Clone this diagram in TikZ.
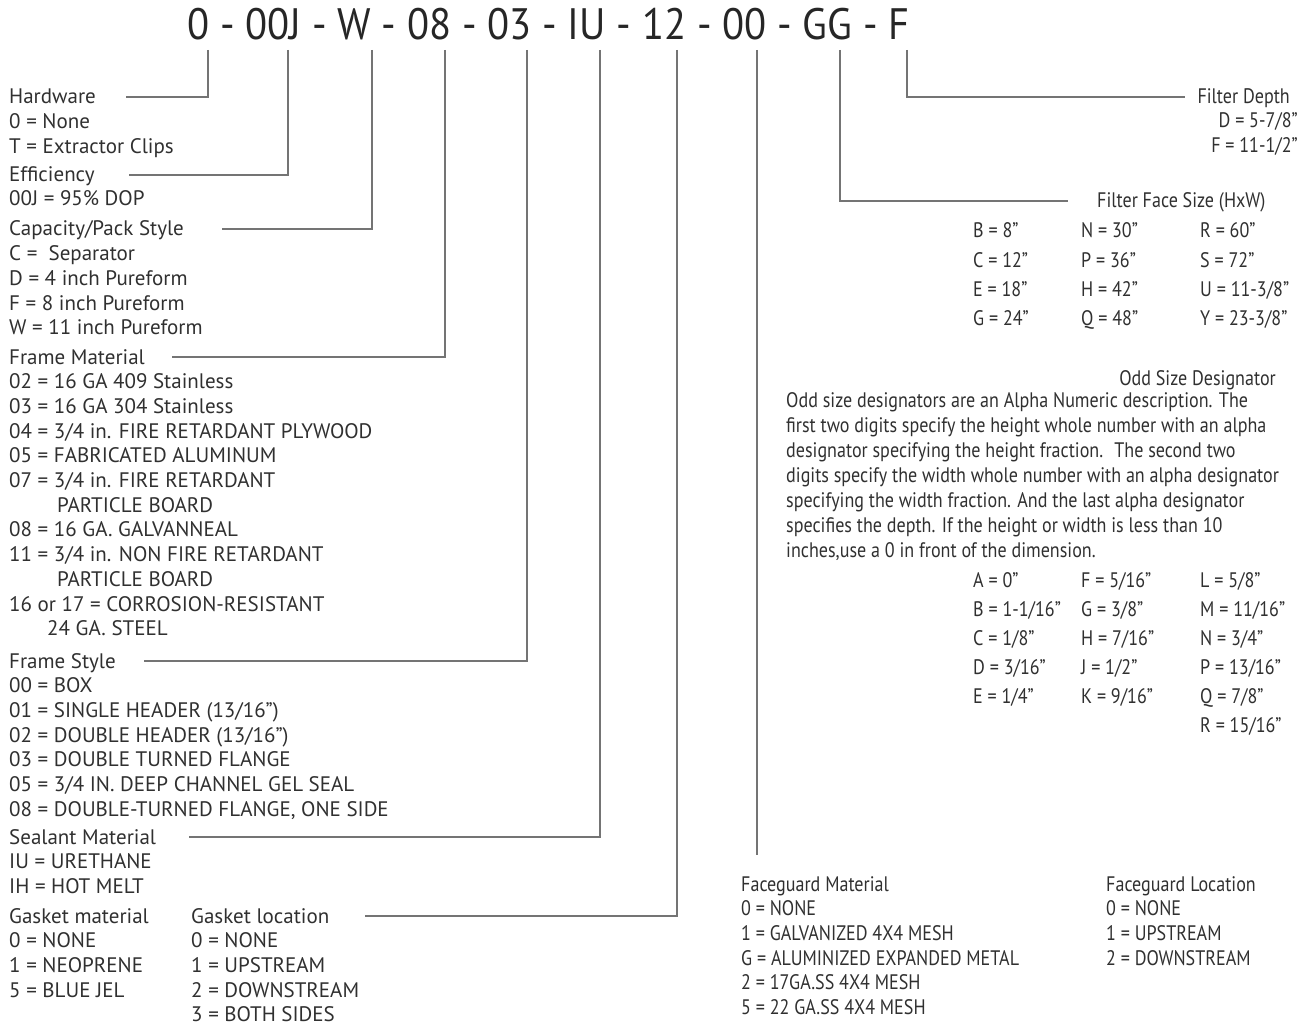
\documentclass[tikz,border=0pt]{standalone}
\usepackage{fontspec}
\setmainfont{PT Sans}
\newfontfamily\narrowfont[FakeStretch=0.86]{PT Sans}
\newfontfamily\codefont[FakeStretch=0.92]{PT Sans}
\usetikzlibrary{positioning}

\definecolor{inkgray}{HTML}{303030}
\definecolor{leadgray}{HTML}{747474}

\tikzset{
  lbl/.style={anchor=west, inner sep=0pt, text height=14pt, text depth=0pt,
    text=inkgray, font=\fontsize{21}{25}\selectfont},
  narrow/.style={lbl, font=\narrowfont\fontsize{21}{25}\selectfont},
  leader/.style={draw=leadgray, line width=1.8pt},
}

\begin{document}
\begin{tikzpicture}[x=1pt,y=-1pt]
  \useasboundingbox (0,0) rectangle (1307,1027);

  \def\rowstep{24.7}
  \def\gridstep{29.1}

  % part number
  \node[anchor=base west, inner sep=0pt, text=black!85,
        font=\codefont\fontsize{44}{50}\selectfont] (code) at (187,40)
        {0 - 00J - W - 08 - 03 - IU - 12 - 00 - GG - F};

  % tick tops under each field
  \foreach \n/\x in {hw/208, eff/288, cap/372, fmat/445, fsty/527,
                     seal/600, gask/677, fguard/757, fsize/840, fdepth/907}
    \coordinate (t-\n) at (\x,50);

  % Hardware
  \node[lbl] (hw) at (9,97) {Hardware};
  \foreach \t [count=\i] in {0 = None, T = Extractor Clips}
    \node[lbl] (hw\i) at (9,{97+\rowstep*\i}) {\t};

  % Efficiency
  \node[lbl] (eff) at (9,175) {Efficiency};
  \node[lbl] (eff1) at (9,199) {00J = 95\% DOP};

  % Capacity
  \node[lbl] (cap) at (9,229) {Capacity/Pack Style};
  \foreach \t [count=\i] in {C =~ Separator, D = 4 inch Pureform,
                             F = 8 inch Pureform, W = 11 inch Pureform}
    \node[lbl] (cap\i) at (9,{229+\rowstep*\i}) {\t};

  % Frame material
  \node[lbl] (fmat) at (9,357) {Frame Material};
  \foreach \t [count=\i] in {02 = 16 GA 409 Stainless, 03 = 16 GA 304 Stainless,
      04 = 3/4 in. FIRE RETARDANT PLYWOOD, 05 = FABRICATED ALUMINUM,
      07 = 3/4 in. FIRE RETARDANT, \hspace*{48pt}PARTICLE BOARD,
      08 = 16 GA. GALVANNEAL, 11 = 3/4 in. NON FIRE RETARDANT,
      \hspace*{48pt}PARTICLE BOARD, 16 or 17 = CORROSION-RESISTANT,
      \hspace*{38pt}24 GA. STEEL}
    \node[lbl] (fmat\i) at (9,{357+\rowstep*\i}) {\t};

  % Frame style
  \node[lbl] (fsty) at (9,661) {Frame Style};
  \foreach \t [count=\i] in {00 = BOX, 01 = SINGLE HEADER (13/16”),
      02 = DOUBLE HEADER (13/16”), 03 = DOUBLE TURNED FLANGE,
      05 = 3/4 IN. DEEP CHANNEL GEL SEAL, {08 = DOUBLE-TURNED FLANGE, ONE SIDE}}
    \node[lbl] (fsty\i) at (9,{661+\rowstep*\i}) {\t};

  % Sealant
  \node[lbl] (seal) at (9,837) {Sealant Material};
  \foreach \t [count=\i] in {IU = URETHANE, IH = HOT MELT}
    \node[lbl] (seal\i) at (9,{837+\rowstep*\i}) {\t};

  % Gasket
  \node[lbl] (gm) at (9,916) {Gasket material};
  \foreach \t [count=\i] in {0 = NONE, 1 = NEOPRENE, 5 = BLUE JEL}
    \node[lbl] (gm\i) at (9,{916+\rowstep*\i}) {\t};
  \node[lbl] (gl) at (191,916) {Gasket location};
  \foreach \t [count=\i] in {0 = NONE, 1 = UPSTREAM, 2 = DOWNSTREAM, 3 = BOTH SIDES}
    \node[lbl] (gl\i) at (191,{916+\rowstep*\i}) {\t};

  % Filter depth
  \node[narrow, anchor=east] (fd) at (1290,97) {Filter Depth};
  \node[narrow, anchor=east] (fd1) at (1298,121) {D = 5-7/8”};
  \node[narrow, anchor=east] (fd2) at (1298,146) {F = 11-1/2”};

  % Filter face size
  \node[narrow] (fs) at (1097,201) {Filter Face Size (HxW)};
  \foreach \t [count=\i] in {B = 8”, C = 12”, E = 18”, G = 24”}
    \node[narrow] (fsa\i) at (973,{231+\gridstep*(\i-1)}) {\t};
  \foreach \t [count=\i] in {N = 30”, P = 36”, H = 42”, Q = 48”}
    \node[narrow] (fsb\i) at (1081,{231+\gridstep*(\i-1)}) {\t};
  \foreach \t [count=\i] in {R = 60”, S = 72”, U = 11-3/8”, Y = 23-3/8”}
    \node[narrow] (fsc\i) at (1200,{231+\gridstep*(\i-1)}) {\t};

  % Odd size designator
  \node[narrow, anchor=east] (odd) at (1276,378) {Odd Size Designator};
  \foreach \t [count=\i] in {
      Odd size designators are an Alpha Numeric description. The,
      first two digits specify the height whole number with an alpha,
      designator specifying the height fraction.~ The second two,
      digits specify the width whole number with an alpha designator,
      specifying the width fraction. And the last alpha designator,
      specifies the depth. If the height or width is less than 10,
      {inches,use a 0 in front of the dimension.}}
    \node[narrow] (para\i) at (786,{375+25*\i}) {\t};
  \foreach \t [count=\i] in {A = 0”, B = 1-1/16”, C = 1/8”, D = 3/16”, E = 1/4”}
    \node[narrow] (oda\i) at (973,{580+\gridstep*(\i-1)}) {\t};
  \foreach \t [count=\i] in {F = 5/16”, G = 3/8”, H = 7/16”, J = 1/2”, K = 9/16”}
    \node[narrow] (odb\i) at (1081,{580+\gridstep*(\i-1)}) {\t};
  \foreach \t [count=\i] in {L = 5/8”, M = 11/16”, N = 3/4”, P = 13/16”, Q = 7/8”, R = 15/16”}
    \node[narrow] (odc\i) at (1200,{580+\gridstep*(\i-1)}) {\t};

  % Faceguard
  \node[narrow] (fgm) at (741,884) {Faceguard Material};
  \foreach \t [count=\i] in {0 = NONE, 1 = GALVANIZED 4X4 MESH,
      G = ALUMINIZED EXPANDED METAL, 2 = 17GA.SS 4X4 MESH, 5 = 22 GA.SS 4X4 MESH}
    \node[narrow] (fgm\i) at (741,{884+\rowstep*\i}) {\t};
  \node[narrow] (fgl) at (1106,884) {Faceguard Location};
  \foreach \t [count=\i] in {0 = NONE, 1 = UPSTREAM, 2 = DOWNSTREAM}
    \node[narrow] (fgl\i) at (1106,{884+\rowstep*\i}) {\t};

  % leader lines
  \draw[leader] (t-hw) |- ([xshift=30pt]hw.east);
  \draw[leader] (t-eff) |- ([xshift=34pt]eff.east);
  \draw[leader] (t-cap) |- ([xshift=38pt]cap.east);
  \draw[leader] (t-fmat) |- ([xshift=27pt]fmat.east);
  \draw[leader] (t-fsty) |- ([xshift=28pt]fsty.east);
  \draw[leader] (t-seal) |- ([xshift=33pt]seal.east);
  \draw[leader] (t-gask) |- ([xshift=36pt]gl.east);
  \coordinate (fg-end) at ([yshift=22pt]fgm.north);
  \draw[leader] (t-fguard) -- (t-fguard |- fg-end);
  \draw[leader] (t-fsize) |- ([xshift=-29pt]fs.west);
  \draw[leader] (t-fdepth) |- ([xshift=-12pt]fd.west);

\end{tikzpicture}
\end{document}
